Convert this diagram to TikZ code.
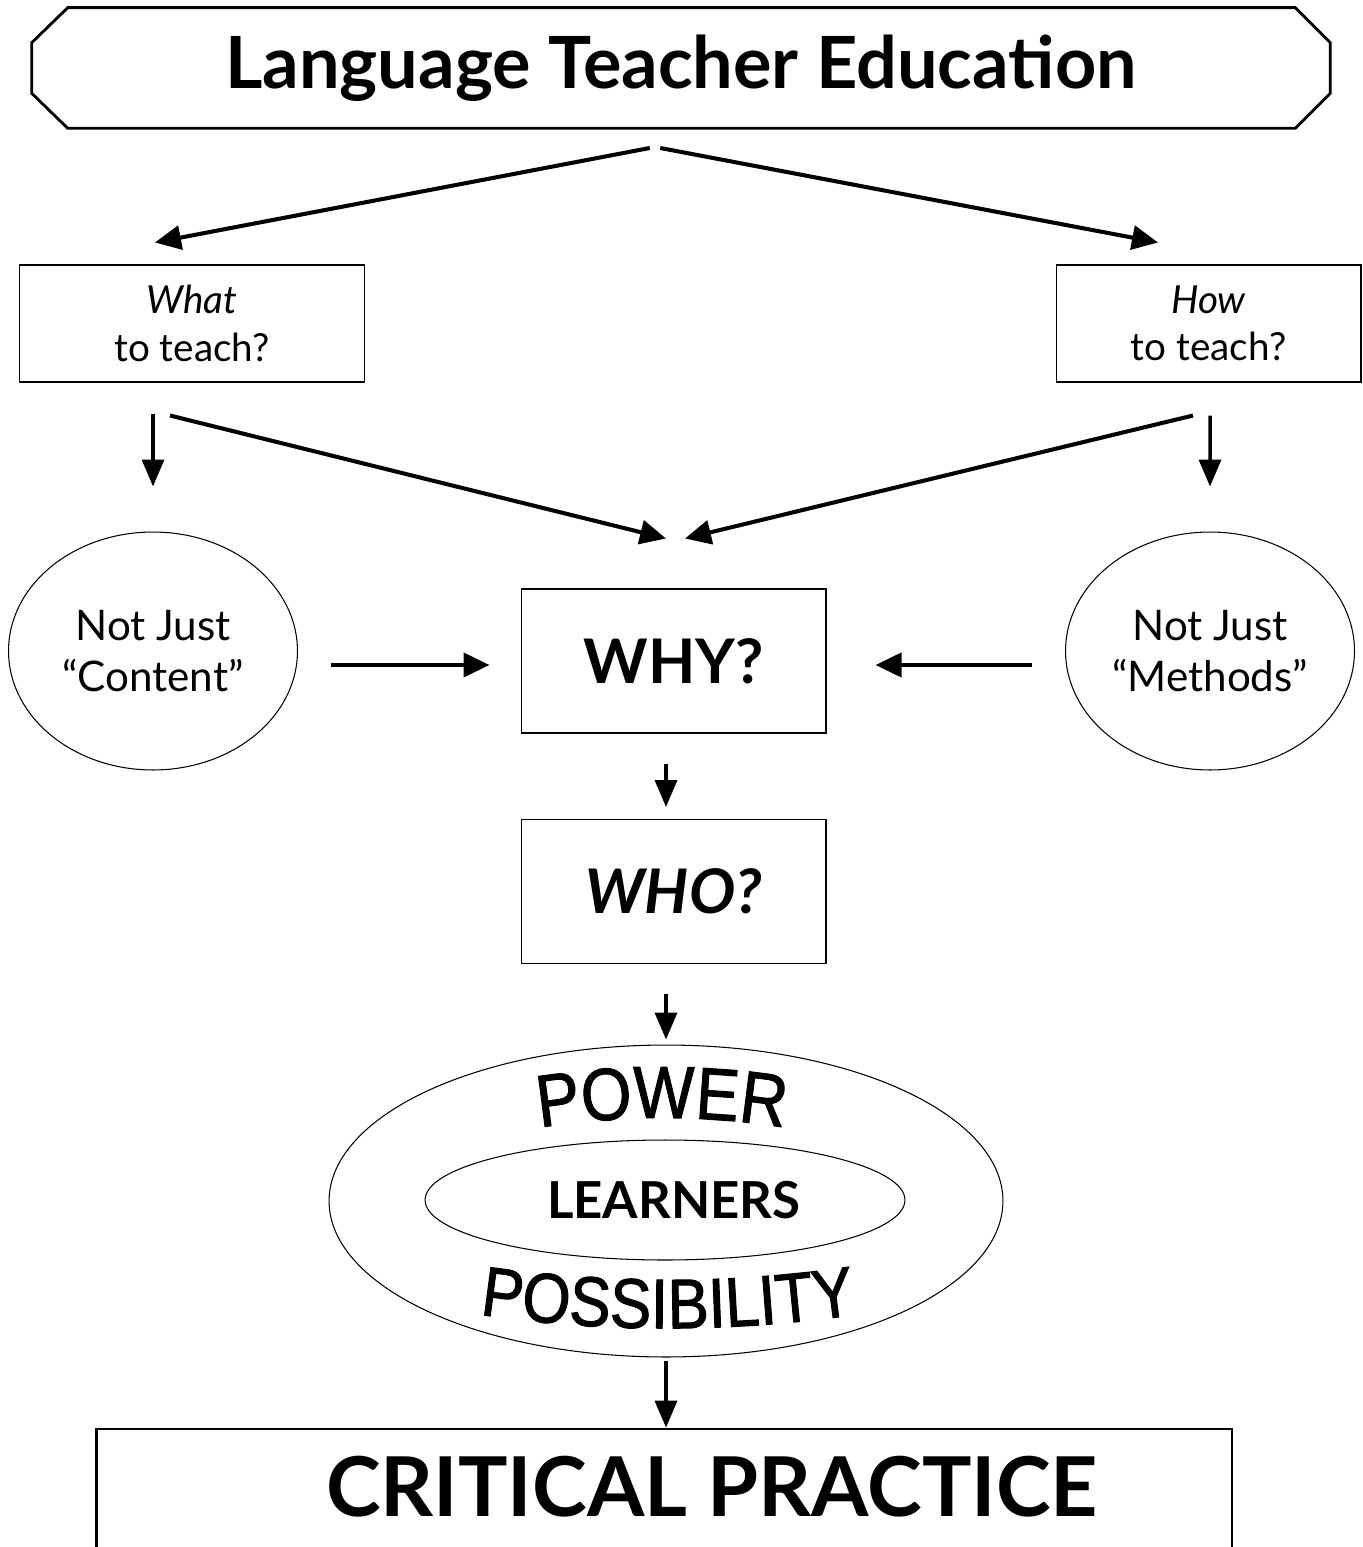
\documentclass[tikz,border=0pt]{standalone}
\usepackage{fontspec}
\setmainfont{Lato}
\newfontfamily\arcfont[FakeStretch=0.88,FakeBold=1.4]{Liberation Sans}
\usetikzlibrary{shapes.geometric,arrows.meta,decorations.text}

\tikzset{
  arr/.style={line width=2.3pt,-{Triangle[length=0.52cm,width=0.48cm]}},
  downarr/.style={line width=2pt,-{Triangle[length=0.54cm,width=0.44cm]}},
  qbox/.style={draw,line width=0.6pt,rectangle,minimum width=#1,minimum height=2.34cm,inner sep=0pt,align=center,font=\fontsize{22}{27}\selectfont},
  bigbox/.style={draw,line width=0.6pt,rectangle,minimum width=6.1cm,minimum height=2.88cm,inner sep=0pt,font=\fontsize{35}{35}\selectfont\bfseries},
  notjust/.style={draw,line width=0.6pt,ellipse,minimum width=5.78cm,minimum height=4.76cm,inner sep=0pt,align=center,font=\fontsize{24}{29.5}\selectfont},
}

\begin{document}
\begin{tikzpicture}[x=0.02cm,y=0.02cm]
	\useasboundingbox (0,0) rectangle (1362,-1547);
	% top banner
	\node[minimum width=25.96cm,minimum height=2.4cm,inner sep=0pt,font=\fontsize{41}{41}\selectfont\bfseries] (lte) at (681,-68) {Language Teacher Education};
	\draw[line width=1.6pt] ([xshift=0.72cm]lte.north west) -- ([xshift=-0.7cm]lte.north east) -- ([yshift=-0.7cm]lte.north east)
		-- ([yshift=0.7cm]lte.south east) -- ([xshift=-0.7cm]lte.south east) -- ([xshift=0.72cm]lte.south west)
		-- ([yshift=0.7cm]lte.south west) -- ([yshift=-0.7cm]lte.north west) -- cycle;
	\coordinate (split) at (655,-148);

	% the two questions
	\node[qbox=6.92cm] (what) at (192,-323.5) {\itshape What\\to teach?};
	\node[qbox=6.1cm] (how) at (1208.5,-323.5) {\itshape How\\to teach?};
	\node[notjust] (content) at (153,-651) {Not Just\\“Content”};
	\node[notjust] (methods) at (1210,-651) {Not Just\\“Methods”};
	\node[bigbox] (why) at (673.5,-661) {WHY?};
	\node[bigbox,font=\fontsize{35}{35}\selectfont\bfseries\itshape] (who) at (673.5,-891.5) {WHO?};

	\draw[arr] ([xshift=-3]split) -- ([shift={(-37,22)}]what.north);
	\draw[arr] ([xshift=3]split) -- ([shift={(-50.5,22)}]how.north);
	\draw[downarr] ([shift={(-39,-31)}]what.south) -- ([shift={(0,45)}]content.north);
	\draw[downarr] ([shift={(1.5,-33)}]how.south) -- ([shift={(0,45)}]methods.north);
	\draw[arr] ([shift={(-22,-33)}]what.south) -- ([shift={(-7.5,50)}]why.north);
	\draw[arr] ([shift={(-15.5,-33)}]how.south) -- ([shift={(11.5,50)}]why.north);
	\draw[arr] ([shift={(33,-14)}]content.east) -- ([shift={(-31,-4)}]why.west);
	\draw[arr] ([shift={(-33,-14)}]methods.west) -- ([shift={(49,-4)}]why.east);
	\draw[downarr] ([shift={(-7.5,-30)}]why.south) -- ([shift={(-7.5,12)}]who.north);

	% power and possibility
	\node[draw,line width=0.6pt,ellipse,minimum width=13.48cm,minimum height=6.24cm] (power) at (666,-1201) {};
	\node[draw,line width=0.6pt,ellipse,minimum width=9.6cm,minimum height=2.4cm,font=\fontsize{29}{29}\selectfont\bfseries] (learners) at (665,-1200) {\hspace{0.35cm}LEARNERS};
	\path[decorate,decoration={text along path,text align=center,text={|\arcfont\fontsize{42}{42}\selectfont|POWER}}]
		(499.8,-1135) arc[start angle=102,end angle=78,radius=15.6cm];
	\path[decorate,decoration={text along path,text align=center,text={|\arcfont\fontsize{40}{40}\selectfont|POSSIBILITY}}]
		(475.8,-1314) arc[start angle=261.5,end angle=278.5,radius=26cm];
	\draw[downarr] ([shift={(0,-30)}]who.south -| power.north) -- ([shift={(0,5)}]power.north);

	% critical practice
	\node[draw,line width=1.6pt,rectangle,minimum width=22.72cm,minimum height=4cm] (practice) at (664,-1529) {};
	\node[font=\fontsize{47}{47}\selectfont\bfseries] (cp) at (712,-1487) {CRITICAL PRACTICE};
	\draw[downarr] ([shift={(0,-3)}]power.south) -- (power.south |- practice.north);
\end{tikzpicture}
\end{document}
